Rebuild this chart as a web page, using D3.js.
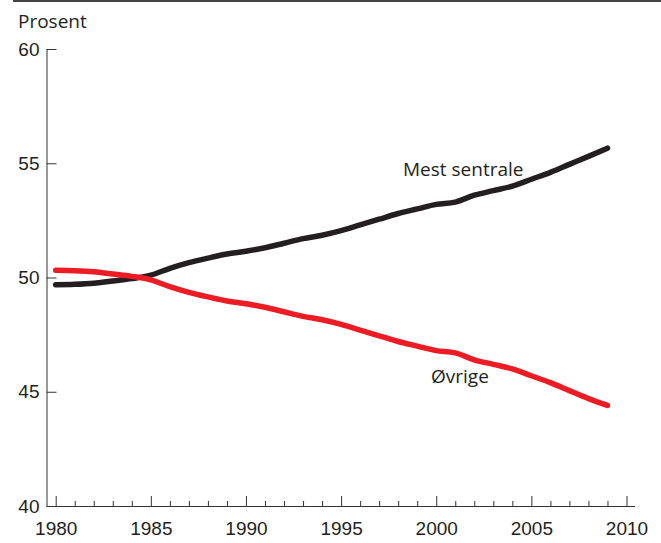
<!DOCTYPE html>
<html>
<head>
<meta charset="utf-8">
<script src="https://cdn.jsdelivr.net/npm/d3@7"></script>
<style>
  html, body { margin: 0; padding: 0; background: #fff; }
  svg { display: block; font-family: "Open Sans", "Noto Sans", sans-serif; }
</style>
</head>
<body>
<svg id="chart" width="661" height="543"></svg>
<script>
const years = d3.range(1980, 2010);
const mestSentrale = [49.68, 49.70, 49.75, 49.85, 49.95, 50.10, 50.40, 50.65, 50.85, 51.03,
                      51.15, 51.30, 51.50, 51.70, 51.85, 52.05, 52.30, 52.55, 52.80, 53.00,
                      53.20, 53.30, 53.60, 53.80, 54.00, 54.30, 54.60, 54.95, 55.30, 55.66];
const ovrige = [50.32, 50.30, 50.25, 50.15, 50.05, 49.90, 49.60, 49.35, 49.15, 48.97,
                48.85, 48.70, 48.50, 48.30, 48.15, 47.95, 47.70, 47.45, 47.20, 47.00,
                46.80, 46.70, 46.40, 46.20, 46.00, 45.70, 45.40, 45.05, 44.70, 44.40];
const yTicks = [40, 45, 50, 55, 60];
const xMajorTicks = [1980, 1985, 1990, 1995, 2000, 2005, 2010];
const xMinorTicks = d3.range(1980, 2011);
const seriesNames = ["Mest sentrale", "Øvrige"];
const seriesColors = ["#231f20", "#ed1c24"];

const svg = d3.select("#chart");
const x = d3.scaleLinear().domain([1980, 2010]).range([55.7, 626.5]);
const y = d3.scaleLinear().domain([40, 60]).range([506, 49]);
const axisColor = "#333";
const textColor = "#231f20";

// top rule
svg.append("line").attr("x1", 13).attr("x2", 661).attr("y1", 1).attr("y2", 1)
  .attr("stroke", "#444").attr("stroke-width", 2);

svg.append("text").attr("x", 18).attr("y", 28).attr("font-size", 19)
  .attr("fill", textColor).text("Prosent");

// y axis
const yAxis = d3.axisRight(y).tickValues(yTicks).tickSize(10).tickFormat(d3.format("d"));
const gy = svg.append("g").attr("transform", "translate(46.5,0)").call(yAxis);
gy.select(".domain").attr("stroke", axisColor).attr("d", `M0.5,${y(60)}V${y(40)}`);
gy.selectAll(".tick line").attr("stroke", axisColor);
gy.selectAll(".tick text").attr("x", -7).attr("text-anchor", "end")
  .attr("font-size", 19).attr("fill", textColor).attr("font-family", null);

// x axis
const gxMinor = svg.append("g").attr("transform", `translate(0,${y(40)})`)
  .call(d3.axisTop(x).tickValues(xMinorTicks.filter(v => v % 5 !== 0)).tickSize(5).tickFormat(""));
gxMinor.select(".domain").remove();
gxMinor.selectAll(".tick line").attr("stroke", axisColor);

const gx = svg.append("g").attr("transform", `translate(0,${y(40)})`)
  .call(d3.axisTop(x).tickValues(xMajorTicks).tickSize(10).tickFormat(d3.format("d")));
gx.select(".domain").attr("stroke", axisColor).attr("d", `M46.5,0.5H635`);
gx.selectAll(".tick line").attr("stroke", axisColor);
gx.selectAll(".tick text").attr("y", 22).attr("dy", "0.35em")
  .attr("font-size", 19).attr("fill", textColor).attr("font-family", null);

// lines
const line = d3.line().x((d, i) => x(years[i])).y(d => y(d)).curve(d3.curveMonotoneX);
[mestSentrale, ovrige].forEach((s, k) => {
  svg.append("path").datum(s).attr("d", line).attr("fill", "none")
    .attr("stroke", seriesColors[k]).attr("stroke-width", 5.5)
    .attr("stroke-linecap", "round").attr("stroke-linejoin", "round");
});

// labels
svg.append("text").attr("x", 403).attr("y", 176).attr("font-size", 19)
  .attr("fill", textColor).text(seriesNames[0]);
svg.append("text").attr("x", 431).attr("y", 383).attr("font-size", 19)
  .attr("fill", textColor).text(seriesNames[1]);
</script>
</body>
</html>
